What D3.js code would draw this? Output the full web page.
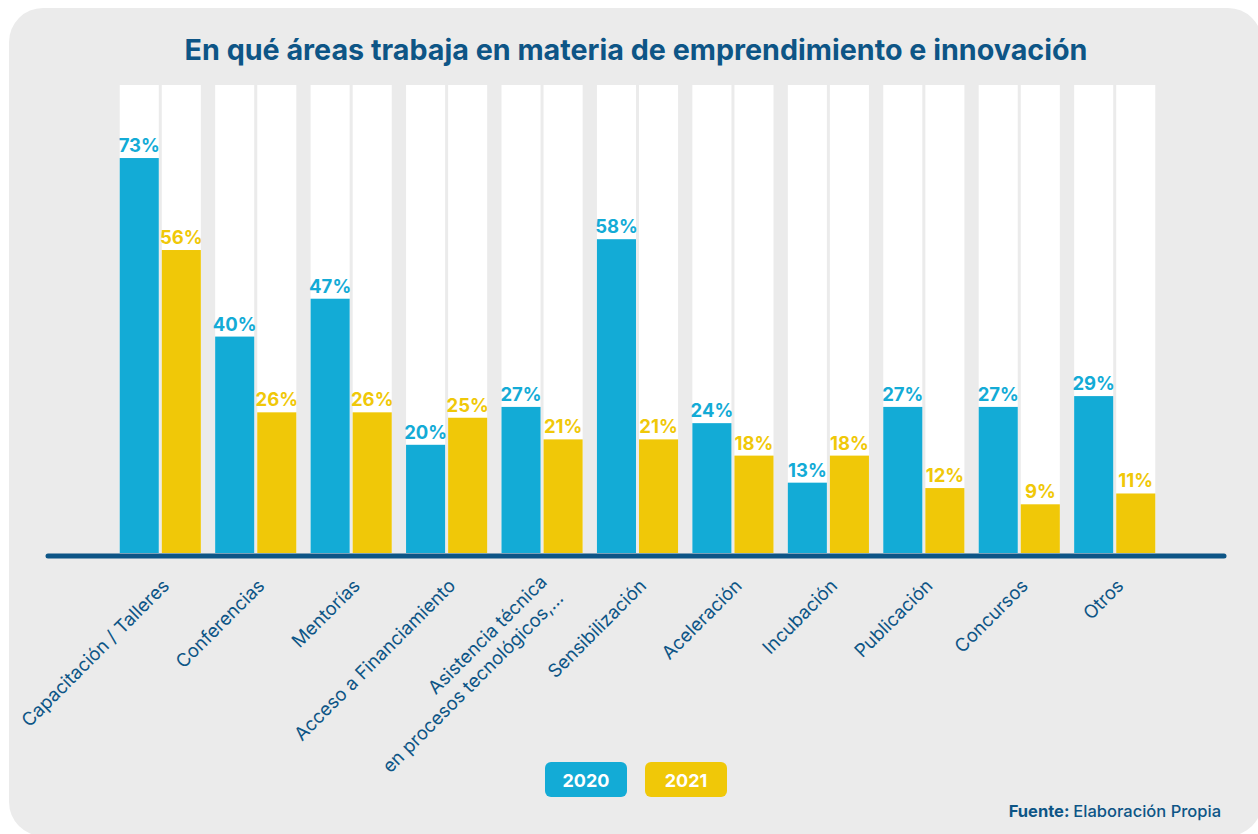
<!DOCTYPE html>
<html>
<head>
<meta charset="utf-8">
<script src="https://cdn.jsdelivr.net/npm/d3@7"></script>
<style>
	body { margin: 0; background: #fff; }
	svg { display: block; font-family: Inter, Roboto, sans-serif; }
</style>
</head>
<body>
<svg id="chart" width="1258" height="834"></svg>
<script>
const categories = [
	'Capacitación / Talleres',
	'Conferencias',
	'Mentorías',
	'Acceso a Financiamiento',
	'Asistencia técnica\nen procesos tecnológicos,...',
	'Sensibilización',
	'Aceleración',
	'Incubación',
	'Publicación',
	'Concursos',
	'Otros'
];
const years = ['2020', '2021'];
const values2020 = [73, 40, 47, 20, 27, 58, 24, 13, 27, 27, 29];
const values2021 = [56, 26, 26, 25, 21, 21, 18, 18, 12, 9, 11];

const colors = { '2020': '#13abd6', '2021': '#f0c808' };
const navy = '#0d5586';

const data = categories.map((c, i) => ({
	category: c,
	values: [
		{ year: '2020', value: values2020[i] },
		{ year: '2021', value: values2021[i] }
	]
}));

const svg = d3.select('#chart');

// panel background
svg.append('rect')
	.attr('x', 9).attr('y', 8)
	.attr('width', 1253).attr('height', 828)
	.attr('rx', 34)
	.attr('fill', '#ebebeb');

svg.append('text')
	.attr('x', 636).attr('y', 60)
	.attr('text-anchor', 'middle')
	.attr('font-size', 28.7)
	.attr('font-weight', 700)
	.attr('fill', navy)
	.text('En qué áreas trabaja en materia de emprendimiento e innovación');

const baseY = 553;
const x0 = d3.scaleBand()
	.domain(categories)
	.range([72, 1203])
	.paddingInner(0.15)
	.paddingOuter(0.5);

const x1 = d3.scaleBand()
	.domain(years)
	.range([0, x0.bandwidth()])
	.paddingInner(0.072);

const y = d3.scaleLinear()
	.domain([0, 86.5])
	.range([baseY, 85]);

const groups = svg.append('g')
	.selectAll('g')
	.data(data)
	.join('g')
	.attr('transform', d => `translate(${x0(d.category)},0)`);

// white column behind every bar
groups.selectAll('rect.bg')
	.data(d => d.values)
	.join('rect')
	.attr('class', 'bg')
	.attr('x', d => x1(d.year))
	.attr('y', y.range()[1])
	.attr('width', x1.bandwidth())
	.attr('height', baseY - y.range()[1])
	.attr('fill', '#fff');

groups.selectAll('rect.bar')
	.data(d => d.values)
	.join('rect')
	.attr('class', 'bar')
	.attr('x', d => x1(d.year))
	.attr('y', d => y(d.value))
	.attr('width', x1.bandwidth())
	.attr('height', d => baseY - y(d.value))
	.attr('fill', d => colors[d.year]);

groups.selectAll('text.val')
	.data(d => d.values)
	.join('text')
	.attr('class', 'val')
	.attr('x', d => x1(d.year) + x1.bandwidth() / 2)
	.attr('y', d => y(d.value) - 6)
	.attr('text-anchor', 'middle')
	.attr('font-size', 18.5)
	.attr('font-weight', 700)
	.attr('fill', d => colors[d.year])
	.text(d => d.value + '%');

// baseline
svg.append('line')
	.attr('x1', 48).attr('x2', 1224)
	.attr('y1', 556).attr('y2', 556)
	.attr('stroke', navy)
	.attr('stroke-width', 5)
	.attr('stroke-linecap', 'round');

// rotated category labels
const labels = svg.append('g')
	.selectAll('text')
	.data(categories)
	.join('text')
	.attr('transform', d => `translate(${x0(d) + x0.bandwidth() / 2 + 10},587) rotate(-45)`)
	.attr('text-anchor', 'end')
	.attr('font-size', 18.5)
	.attr('fill', navy);

labels.each(function(d) {
	const lines = d.split('\n');
	d3.select(this).selectAll('tspan')
		.data(lines)
		.join('tspan')
		.attr('x', 0)
		.attr('dy', (l, i) => i === 0 ? (lines.length > 1 ? '-0.3em' : 0) : '1.25em')
		.text(l => l);
});

// legend
const legend = svg.append('g')
	.selectAll('g')
	.data(years)
	.join('g')
	.attr('transform', (d, i) => `translate(${545 + i * 100},762)`);

legend.append('rect')
	.attr('width', 82).attr('height', 35)
	.attr('rx', 6)
	.attr('fill', d => colors[d]);

legend.append('text')
	.attr('x', 41).attr('y', 25)
	.attr('text-anchor', 'middle')
	.attr('font-size', 18)
	.attr('font-weight', 700)
	.attr('fill', '#fff')
	.text(d => d);

const src = svg.append('text')
	.attr('x', 1221).attr('y', 817)
	.attr('text-anchor', 'end')
	.attr('font-size', 16.5)
	.attr('fill', navy);
src.append('tspan').attr('font-weight', 700).text('Fuente: ');
src.append('tspan').attr('font-weight', 500).text('Elaboración Propia');
</script>
</body>
</html>
